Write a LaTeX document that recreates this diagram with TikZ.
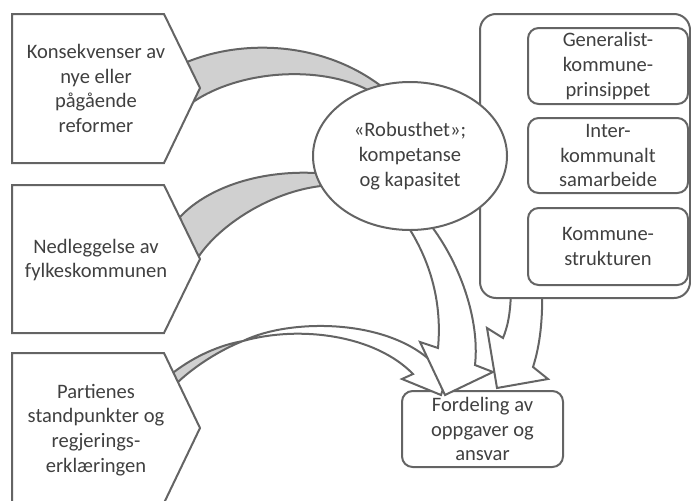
\documentclass[tikz,border=0pt]{standalone}
\usepackage{fontspec}
\setmainfont{Carlito}
\usetikzlibrary{shapes.geometric}
\definecolor{linecol}{HTML}{646464}
\definecolor{txtcol}{HTML}{404040}
\definecolor{bandcol}{HTML}{D0D0D0}
\tikzset{
  outl/.style={draw=linecol, line width=1.5pt},
  band/.style={outl, fill=bandcol},
  blk/.style={outl, fill=white},
  txt/.style={align=center, text=txtcol, font=\fontsize{15.4}{18.6}\selectfont, inner sep=0pt},
  rbox/.style={blk, txt, rectangle, rounded corners=8pt},
}
\begin{document}
\begin{tikzpicture}[x=0.75pt,y=-0.75pt]
\useasboundingbox (0,0) rectangle (691,500);
% target box
\node[rbox, minimum width=120.75pt, minimum height=57pt] (ford) at (482.5,429) {Fordeling av\\oppgaver og\\ansvar};
% grey bands into the ellipse
\draw[band] (187,62) .. controls (240,40) and (320,40) .. (381,86) -- (390,100) -- (368,90)
  .. controls (320,65) and (240,70) .. (193,102) -- (180,85) -- cycle;
\draw[band] (180,217) .. controls (205,190) and (255,170) .. (316,173) -- (335,180) -- (321,186)
  .. controls (270,192) and (220,225) .. (199,256) -- (185,240) -- cycle;
% arrow from chevron 3
\draw[band] (174,372) .. controls (195,356) and (220,345) .. (243,341)
  .. controls (220,350) and (195,366) .. (178,382) -- (165,380) -- cycle;
\draw[blk] (243,341) .. controls (290,318) and (390,318) .. (435,365) -- (455,352) -- (441,395)
  -- (402,379) -- (413,374) .. controls (375,335) and (300,325) .. (243,341) -- cycle;
% arrow from ellipse
\draw[blk] (405,222) .. controls (432,262) and (442,305) .. (438,348) -- (420,342) -- (445,395)
  -- (493,372) -- (475,365) .. controls (480,320) and (460,260) .. (425,218) -- cycle;
% arrow from right box
\draw[blk] (511,285) .. controls (511,315) and (507,328) .. (503,338) -- (487,328) -- (497,388)
  -- (548,379) -- (533,367) .. controls (540,345) and (543,320) .. (542,285) -- cycle;
% chevrons
\draw[blk] (12,14) -- (164,14) -- (200,88) -- (164,163) -- (12,163) -- cycle;
\draw[blk] (12,185) -- (164,185) -- (200,259) -- (164,333) -- (12,333) -- cycle;
\draw[blk] (12,353) -- (164,353) -- (200,428) -- (164,503) -- (12,503) -- cycle;
\node[txt] (c1) at (96,88.5) {Konsekvenser av\\nye eller\\pågående\\reformer};
\node[txt] (c2) at (96,260) {Nedleggelse av\\fylkeskommunen};
\node[txt] (c3) at (96,430) {Partienes\\standpunkter og\\regjerings-\\erklæringen};
% right container
\node[blk, rectangle, rounded corners=12pt, minimum width=157.5pt, minimum height=213pt] (cont) at (585,156) {};
\node[rbox, minimum width=120pt, minimum height=57pt] (gen) at (608,66) {Generalist-\\kommune-\\prinsippet};
\node[rbox, minimum width=120pt, minimum height=56.25pt] (inter) at (608,155.5) {Inter-\\kommunalt\\samarbeide};
\node[rbox, minimum width=120pt, minimum height=57.75pt] (struk) at (608,246.5) {Kommune-\\strukturen};
% ellipse
\node[blk, txt, ellipse, minimum width=145.5pt, minimum height=111pt] (rob) at (410,156) {«Robusthet»;\\kompetanse\\og kapasitet};
\end{tikzpicture}
\end{document}
